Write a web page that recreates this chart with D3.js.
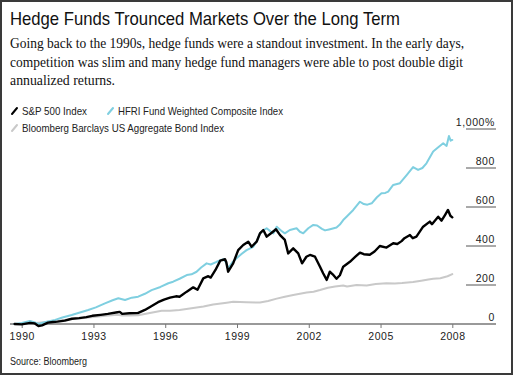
<!DOCTYPE html>
<html><head><meta charset="utf-8">
<script src="https://cdn.jsdelivr.net/npm/d3@7/dist/d3.min.js"></script>
<style>
html,body{margin:0;padding:0;background:#fff;}
svg{display:block;}
</style></head>
<body>
<svg id="chart" width="513" height="375"></svg>
<script>
// ---- Data (cumulative return, %) ----
const spYears = [1989.7,1990.0,1990.35,1990.55,1990.7,1990.85,1991.1,1991.3,1991.5,1991.8,1992.1,1992.4,1992.7,1992.95,1993.3,1993.6,1994.0,1994.1,1994.2,1994.5,1994.85,1995.15,1995.4,1995.7,1995.95,1996.2,1996.45,1996.6,1996.9,1997.17,1997.35,1997.59,1997.8,1997.9,1998.1,1998.3,1998.5,1998.55,1998.63,1998.84,1999.05,1999.26,1999.47,1999.61,1999.82,1999.96,2000.1,2000.24,2000.45,2000.63,2000.8,2001.0,2001.14,2001.35,2001.56,2001.72,2001.9,2002.05,2002.26,2002.47,2002.6,2002.75,2002.88,2003.0,2003.16,2003.3,2003.44,2003.72,2003.95,2004.14,2004.3,2004.55,2004.75,2004.97,2005.25,2005.53,2005.7,2005.88,2006.0,2006.23,2006.35,2006.5,2006.78,2007.06,2007.15,2007.41,2007.55,2007.7,2007.82,2007.92,2008.0];
const spValues = [0,-2,6,3,-10,-7,7,10,12,17,27,30,35,42,47,52,60,62,52,55,56,72,90,112,125,135,142,140,166,188,176,234,245,238,277,325,332,318,268,311,379,405,422,396,422,465,482,448,468,486,456,431,362,388,362,311,345,354,345,294,260,226,268,255,232,250,294,319,345,366,358,355,372,400,392,414,410,425,440,456,440,448,499,525,512,550,530,560,585,555,547];

const hfYears = [1989.7,1990.0,1990.35,1990.55,1990.7,1991.0,1991.4,1991.7,1992.09,1992.4,1992.78,1993.1,1993.48,1993.8,1994.04,1994.32,1994.6,1994.87,1995.15,1995.43,1995.8,1996.13,1996.33,1996.6,1996.9,1997.1,1997.31,1997.5,1997.73,1997.9,1998.15,1998.43,1998.55,1998.63,1998.8,1998.98,1999.2,1999.4,1999.68,1999.85,1999.96,2000.1,2000.24,2000.4,2000.52,2000.66,2000.85,2001.0,2001.21,2001.49,2001.63,2001.77,2001.98,2002.19,2002.35,2002.55,2002.68,2002.85,2003.16,2003.3,2003.44,2003.58,2003.86,2004.14,2004.3,2004.45,2004.63,2004.85,2005.04,2005.2,2005.32,2005.53,2005.81,2006.1,2006.36,2006.57,2006.75,2006.92,2007.2,2007.4,2007.62,2007.76,2007.86,2007.93,2008.0];
const hfValues = [0,5,15,8,0,10,21,33,46,58,72,85,106,122,132,123,135,140,155,174,190,209,217,232,251,255,268,290,311,305,319,332,315,286,315,337,360,379,396,430,465,480,491,475,465,499,478,465,482,491,473,465,491,508,505,488,480,485,495,510,533,550,585,627,615,612,619,650,670,672,679,713,722,765,805,790,800,824,885,905,927,913,964,940,944];

const bdYears = [1989.7,1990.0,1990.5,1991.0,1991.5,1992.0,1992.5,1993.0,1993.5,1994.0,1994.2,1994.5,1994.87,1995.3,1995.85,1996.2,1996.6,1997.17,1997.6,1998.0,1998.57,1998.84,1999.4,1999.96,2000.3,2000.66,2001.0,2001.35,2001.63,2001.91,2002.2,2002.47,2002.8,2003.1,2003.44,2003.6,2004.0,2004.42,2004.8,2005.25,2005.6,2005.9,2006.36,2006.7,2007.0,2007.2,2007.5,2007.8,2008.0];
const bdValues = [0,1,4,10,15,25,30,36,42,48,44,44,45,55,68,68,72,82,90,100,109,114,112,110,118,130,140,149,155,161,165,174,186,192,197,192,200,198,205,209,208,210,215,222,228,232,235,245,256];

const seriesNames = ["S&P 500 Index","HFRI Fund Weighted Composite Index","Bloomberg Barclays US Aggregate Bond Index"];
const xTickYears = [1990,1993,1996,1999,2002,2005,2008];
const yTickValues = [0,200,400,600,800,1000];

const title = "Hedge Funds Trounced Markets Over the Long Term";
const subtitleLines = [
  "Going back to the 1990s, hedge funds were a standout investment. In the early days,",
  "competition was slim and many hedge fund managers were able to post double digit",
  "annualized returns."
];
const source = "Source: Bloomberg";

// ---- Drawing ----
const svg = d3.select("#chart");
const W = 513, H = 375;

svg.append("rect").attr("x",1).attr("y",1).attr("width",W-2).attr("height",H-2)
  .attr("fill","#fff").attr("stroke","#3a3a3a").attr("stroke-width",2);

const sans = "'Liberation Sans', Arial, Helvetica, sans-serif";
const serif = "'Liberation Serif', 'DejaVu Serif', Georgia, serif";

svg.append("text").attr("x",10).attr("y",25).text(title)
  .attr("font-family",sans).attr("font-size",18.5).attr("fill","#111")
  .attr("textLength",390).attr("lengthAdjust","spacingAndGlyphs");

const subLens = [454,453,105];
svg.selectAll("text.sub").data(subtitleLines).join("text").attr("class","sub")
  .attr("x",10).attr("y",(d,i)=>48+i*18.6).text(d=>d)
  .attr("font-family",serif).attr("font-size",14.6).attr("fill","#111")
  .attr("textLength",(d,i)=>subLens[i]).attr("lengthAdjust","spacingAndGlyphs");

const x = d3.scaleLinear().domain([1990,2008]).range([21.7,452.3]);
const y = d3.scaleLinear().domain([0,1000]).range([324,129]);

// y grid segments + labels
const yg = svg.append("g");
yg.selectAll("line").data(yTickValues.filter(v=>v>0)).join("line")
  .attr("x1",466).attr("x2",496).attr("y1",d=>y(d)).attr("y2",d=>y(d))
  .attr("stroke","#555").attr("stroke-width",1);
yg.selectAll("text").data(yTickValues).join("text")
  .attr("x",495).attr("y",d=>y(d)-3.5).attr("text-anchor","end")
  .text(d=>d===1000?"1,000%":d3.format(",")(d))
  .attr("font-family",sans).attr("font-size",10.5).attr("fill","#222")
  .attr("letter-spacing",0.6);

// x axis
const xAxis = d3.axisBottom(x).tickValues(xTickYears).tickFormat(d3.format("d")).tickSize(4).tickPadding(5);
const xg = svg.append("g").attr("transform","translate(0,324)").call(xAxis);
xg.select(".domain").remove();
xg.selectAll(".tick line").attr("stroke","#777").attr("stroke-width",1);
xg.selectAll(".tick text").attr("font-family",sans).attr("font-size",10.5).attr("fill","#222").attr("letter-spacing",0.5);
svg.append("line").attr("x1",10).attr("x2",496).attr("y1",324).attr("y2",324)
  .attr("stroke","#777").attr("stroke-width",1.5);

// lines
const line = d3.line().x(d=>x(d[0])).y(d=>y(d[1])).curve(d3.curveLinear);
const zip = (a,b)=>a.map((v,i)=>[v,b[i]]);
const colors = ["#000000","#7fcfe0","#c9c9c9"];
const widths = [2.4,2,2];
const series = [zip(spYears,spValues), zip(hfYears,hfValues), zip(bdYears,bdValues)];
const drawOrder = [2,1,0];
svg.append("g").selectAll("path").data(drawOrder).join("path")
  .attr("d",i=>line(series[i])).attr("fill","none")
  .attr("stroke",i=>colors[i]).attr("stroke-width",i=>widths[i])
  .attr("stroke-linejoin","round").attr("stroke-linecap","round");

// legend
const legendPos = [[12,111],[108,111],[12,128]];
const legendLens = [65,165,202];
const lg = svg.append("g");
legendPos.forEach((p,i)=>{
  lg.append("line").attr("x1",p[0]).attr("y1",p[1]+3).attr("x2",p[0]+5).attr("y2",p[1]-3)
    .attr("stroke",colors[i]).attr("stroke-width",2).attr("stroke-linecap","round");
  lg.append("text").attr("x",p[0]+10).attr("y",p[1]+3.8).text(seriesNames[i])
    .attr("font-family",sans).attr("font-size",10.5).attr("fill","#222")
    .attr("textLength",legendLens[i]).attr("lengthAdjust","spacingAndGlyphs");
});

svg.append("text").attr("x",10).attr("y",365).text(source)
  .attr("font-family",sans).attr("font-size",10).attr("fill","#222")
  .attr("textLength",77).attr("lengthAdjust","spacingAndGlyphs");
</script>
</body></html>
